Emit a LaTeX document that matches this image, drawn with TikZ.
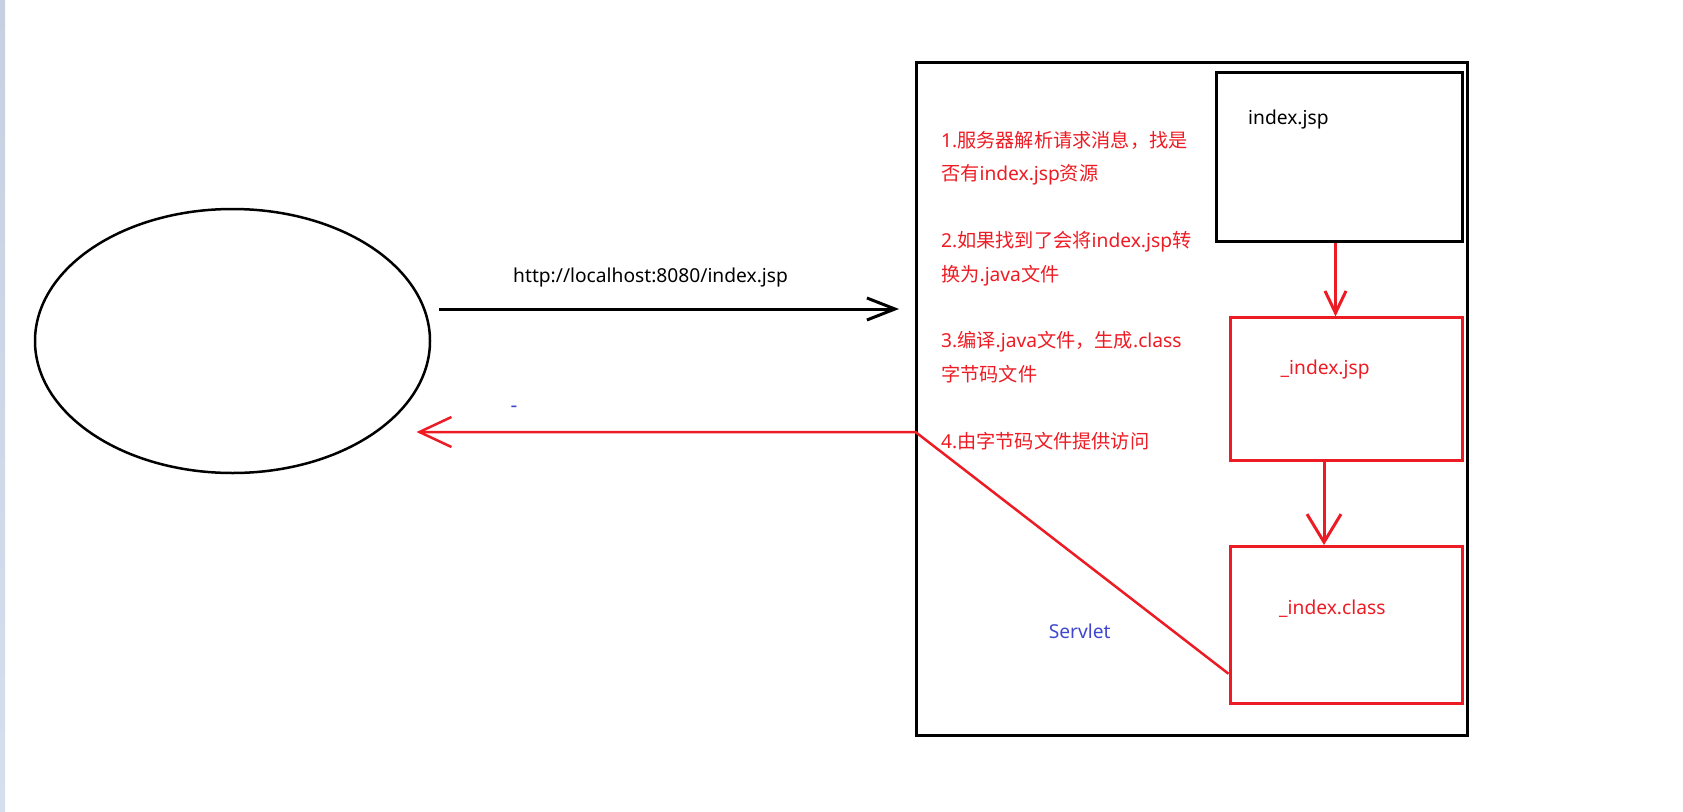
\documentclass[tikz,border=0pt]{standalone}
\usepackage{fontspec}
\newfontfamily\cjk{Noto Sans CJK SC}
\newfontfamily\en{Noto Sans}
\usetikzlibrary{arrows.meta,positioning,shapes.geometric}
\definecolor{pred}{RGB}{237,28,36}
\definecolor{pblue}{RGB}{63,72,204}
\definecolor{stripa}{RGB}{198,208,224}
\definecolor{stripb}{RGB}{214,223,238}

\begin{document}
\begin{tikzpicture}[
          x=1pt, y=-1pt, font=\en\fontsize{19.2}{23}\selectfont,
          client/.style={ellipse, draw=black, line width=2.5pt,
              minimum width=395pt, minimum height=264pt},
          srvbox/.style={rectangle, draw=black, line width=3pt, inner sep=0pt},
          blkbox/.style={rectangle, draw=black, line width=3pt, inner sep=0pt},
          redbox/.style={rectangle, draw=pred, line width=3pt, inner sep=0pt},
          blk/.style={draw=black, line width=3pt},
          redl/.style={draw=pred, line width=3pt},
          lbl/.style={inner sep=0pt, anchor=west},
          steps/.style={inner sep=0pt, anchor=north west, align=left, text=pred,
              font=\cjk\fontsize{19.2}{33.4}\selectfont}
      ]
      \useasboundingbox (0,0) rectangle (1683,811);
      \shade[top color=stripa, bottom color=stripb] (0,0) rectangle (5,811);
      \node[client] (client) at (232.5,341) {};
      \node[srvbox, minimum width=551pt, minimum height=673pt] (server) at (1191.5,398.5) {};
      \node[blkbox, minimum width=246pt, minimum height=168.7pt] (jsp)  at (1339,157.3) {};
      \node[redbox, minimum width=232pt, minimum height=142.7pt] (java) at (1346,389.3) {};
      \node[redbox, minimum width=232pt, minimum height=156.5pt] (cls)  at (1346,624.75) {};
      \node[lbl] (jsplbl)  at (1248,120) {index.jsp};
      \node[lbl, text=pred] (javalbl) at (1280.5,370) {\_index.jsp};
      \node[lbl, text=pred] (clslbl)  at (1279,609) {\_index.class};
      \node[lbl, text=pblue] (servlet) at (1048.6,631) {Servlet};
      \node[lbl] (url) at (513,278) {http://localhost:8080/index.jsp};
      \node[inner sep=0pt, text=pblue, font=\en\bfseries\fontsize{21}{23}\selectfont] (dash) at (514,409) {-};
      \node[steps] (stepstxt) at (941,131)
          {{\en 1.}服务器解析请求消息，找是\\否有{\en index.jsp}资源\\[33.4pt]
           {\en 2.}如果找到了会将{\en index.jsp}转\\换为{\en .java}文件\\[33.4pt]
           {\en 3.}编译{\en .java}文件，生成{\en .class}\\字节码文件\\[33.4pt]
           {\en 4.}由字节码文件提供访问};
      \coordinate (reqend)  at (899,309);
      \coordinate (bend)    at (915.5,432);
      \coordinate (respend) at (416.5,432);
      \draw[blk, -{Straight Barb[length=28pt,width=22pt]}] ([shift={(8,-32)}]client.east) -- (reqend);
      \draw[redl, line width=2.5pt, -{Straight Barb[length=32pt,width=30pt]}] ([yshift=-49pt]cls.west) -- (bend) -- (respend);
      \draw[redl, -{Straight Barb[length=22pt,width=21pt]}] ([xshift=-3.5pt]jsp.south) -- ([xshift=-3.5pt]jsp.south |- java.north);
      \draw[redl, -{Straight Barb[length=28pt,width=34pt]}] ([xshift=-22pt]java.south) -- ([xshift=-22pt]java.south |- cls.north);
      \end{tikzpicture}
\end{document}
